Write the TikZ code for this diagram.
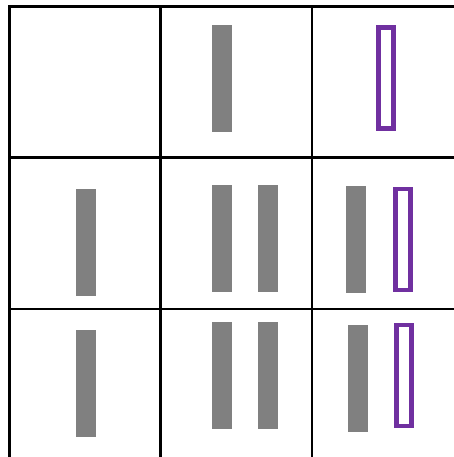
\documentclass[tikz,border=0pt]{standalone}
\definecolor{barpurple}{HTML}{7030A0}
\begin{document}
\begin{tikzpicture}[x=1pt, y=-1pt, grid/.style={black,line width=2.6pt}, bar/.style={fill=black!50,inner sep=0pt,minimum width=20pt,minimum height=107pt}, hollow/.style={draw=barpurple,line width=4.5pt,fill=white,inner sep=0pt,minimum width=15pt,minimum height=101pt}]
\useasboundingbox (0,0) rectangle (454,457);
% grid
\draw[grid] (8.2,6.5) -- (454,6.5) (9.5,157.5) -- (454,157.5) (9.5,309) -- (454,309);
\draw[grid] (9.5,6.5) -- (9.5,457) (160.5,6.5) -- (160.5,457) (312,6.5) -- (312,457);
% row 1
\node[bar] (b12) at (222,79) {}; \node[hollow] (p13) at (386,78) {};
% row 2
\node[bar] (b21) at (86,242.5) {};
\node[bar] (b22a) at (222,238.5) {}; \node[bar] (b22b) at (268,238.5) {};
\node[bar] (b23) at (356,239.5) {}; \node[hollow] (p23) at (403,239.5) {};
% row 3
\node[bar] (b31) at (86,383.5) {};
\node[bar] (b32a) at (222,375.5) {}; \node[bar] (b32b) at (268,375.5) {};
\node[bar] (b33) at (358,378.5) {}; \node[hollow] (p33) at (404,375.5) {};
\end{tikzpicture}
\end{document}
